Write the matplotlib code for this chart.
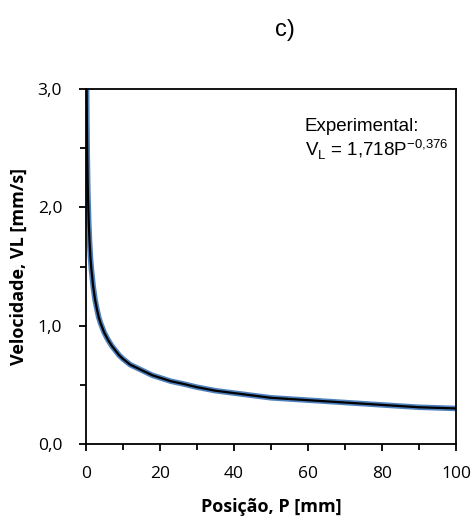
import numpy as np
import matplotlib.pyplot as plt
from matplotlib.ticker import MultipleLocator, FuncFormatter

plt.rcParams['mathtext.fontset'] = 'custom'
plt.rcParams['mathtext.rm'] = 'Liberation Sans'

# valores (curva ajustada)
posicao = [0.2, 0.25, 0.3, 0.4, 0.5, 0.6, 0.8, 1, 1.25, 1.5, 2, 2.5, 3, 3.5, 4, 5, 6, 7, 8, 9,
           10, 12, 14, 16, 18, 20, 23, 26, 30, 35, 40, 45, 50, 55, 60, 65, 70, 75, 80, 85,
           90, 95, 100]
velocidade = [3.15, 2.89, 2.72, 2.44, 2.23, 2.08, 1.87, 1.72, 1.58, 1.48, 1.33, 1.22, 1.14,
              1.07, 1.02, 0.94, 0.88, 0.83, 0.79, 0.75, 0.72, 0.67, 0.64, 0.61, 0.58, 0.56,
              0.53, 0.51, 0.48, 0.45, 0.43, 0.41, 0.39, 0.38, 0.37, 0.36, 0.35, 0.34, 0.33,
              0.32, 0.31, 0.305, 0.30]

fig = plt.figure(figsize=(4.74, 5.18), dpi=100)
ax = fig.add_axes([0.181, 0.143, 0.781, 0.685])

ax.plot(posicao, velocidade, color='#4f81bd', lw=4.0, solid_capstyle='butt')
ax.plot(posicao, velocidade, color='black', lw=1.6)

ax.set_xlim(0, 100)
ax.set_ylim(0, 3)
ax.xaxis.set_major_locator(MultipleLocator(20))
ax.xaxis.set_minor_locator(MultipleLocator(10))
ax.yaxis.set_major_locator(MultipleLocator(1))
ax.yaxis.set_minor_locator(MultipleLocator(0.5))
ax.yaxis.set_major_formatter(FuncFormatter(lambda v, p: f"{v:.1f}".replace('.', ',')))
ax.tick_params(which='both', direction='out', width=1.3, labelsize=12.5)
ax.tick_params(which='major', length=5)
ax.tick_params(axis='x', which='major', pad=11)
ax.tick_params(axis='y', which='major', pad=12)
ax.tick_params(which='minor', length=4)
for s in ax.spines.values():
    s.set_linewidth(1.3)
for lab in ax.get_xticklabels() + ax.get_yticklabels():
    lab.set_family('Open Sans')

ax.set_xlabel('Posição, P [mm]', fontweight='bold', fontsize=13, family='Open Sans')
ax.set_ylabel('Velocidade, VL [mm/s]', fontweight='bold', fontsize=13, family='Open Sans')
ax.xaxis.set_label_coords(0.5, -0.152)
ax.yaxis.set_label_coords(-0.157, 0.5)

fig.text(0.601, 0.942, 'c)', fontsize=17, family='Liberation Sans', ha='center', va='center')
ax.text(0.592, 0.895, 'Experimental:', transform=ax.transAxes, fontsize=13.5,
        family='Liberation Sans', va='center')
ax.text(0.592, 0.828, r'V$_\mathregular{L}$ = 1,718P$^\mathregular{-0{,}376}$', transform=ax.transAxes,
        fontsize=13.5, family='Liberation Sans', va='center')

fig.savefig('out.png', dpi=100)
